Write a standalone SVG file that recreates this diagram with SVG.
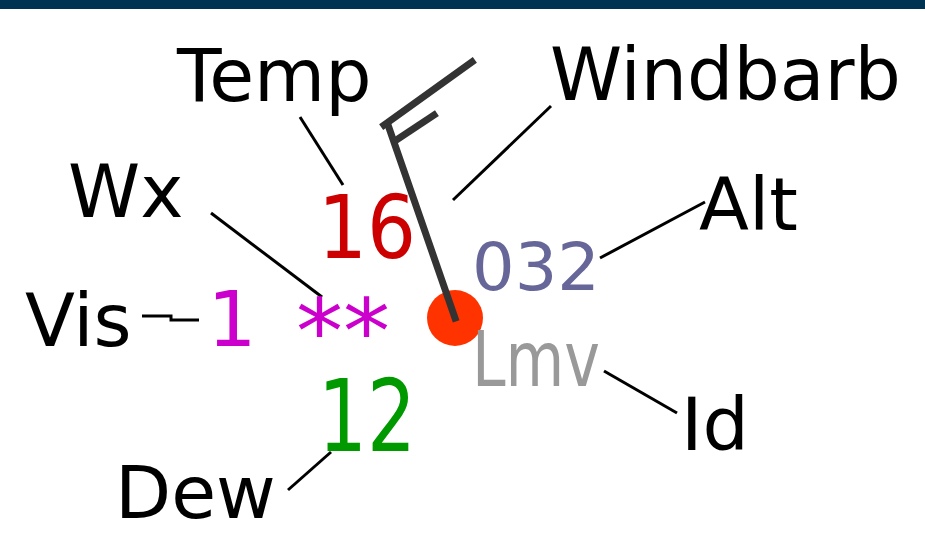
<svg xmlns="http://www.w3.org/2000/svg" width="925" height="554" viewBox="0 0 925 554">
<style>
.lbl{font-family:"DejaVu Sans",sans-serif;font-size:73px;fill:#000}
.val{font-family:"DejaVu Sans",sans-serif}
.ld{stroke:#000;stroke-width:3;fill:none}
.barb{stroke:#333;stroke-width:7;fill:none;stroke-linecap:square}
</style>
<rect x="0" y="0" width="925" height="554" fill="#fff"/>
<rect x="0" y="0" width="925" height="9" fill="#003352"/>
<g id="connectors">
<line class="ld" x1="300" y1="117" x2="343" y2="185"/>
<line class="ld" x1="453" y1="200" x2="551" y2="106"/>
<line class="ld" x1="211" y1="213" x2="322" y2="297"/>
<polyline class="ld" points="142,316 171,316 171,320 199,320"/>
<line class="ld" x1="600" y1="258" x2="705" y2="202"/>
<line class="ld" x1="604" y1="371" x2="677" y2="413"/>
<line class="ld" x1="288" y1="490" x2="331" y2="452"/>
</g>
<g id="station">
<circle cx="455" cy="318" r="28" fill="#ff3300"/>
</g>
<g id="windbarb-shape">
<line class="barb" x1="388" y1="125" x2="455" y2="318"/>
<line class="barb" x1="384" y1="125" x2="472" y2="62"/>
<line class="barb" x1="395" y1="141" x2="434" y2="115"/>
</g>
<g id="temp-value"><text class="val" x="318" y="258" font-size="88" fill="#cc0000" textLength="98" lengthAdjust="spacingAndGlyphs">16</text></g>
<g id="alt-value"><text class="val" x="472" y="290" font-size="66" fill="#666699" textLength="128" lengthAdjust="spacingAndGlyphs">032</text></g>
<g id="id-value"><text class="val" x="472" y="386" font-size="77" fill="#999999" textLength="128" lengthAdjust="spacingAndGlyphs">Lmv</text></g>
<g id="vis-value"><text class="val" x="232" y="346" font-size="77" fill="#cc00cc" text-anchor="middle">1</text></g>
<g id="wx-value"><text class="val" x="296" y="363" font-size="89" fill="#cc00cc" textLength="94" lengthAdjust="spacingAndGlyphs">**</text></g>
<g id="dew-value"><text class="val" x="318" y="451" font-size="100" fill="#009900" textLength="98" lengthAdjust="spacingAndGlyphs">12</text></g>
<g id="label-temp"><text class="lbl" x="177" y="101">Temp</text></g>
<g id="label-windbarb"><text class="lbl" x="550" y="100">Windbarb</text></g>
<g id="label-wx"><text class="lbl" x="68" y="217">Wx</text></g>
<g id="label-alt"><text class="lbl" x="699" y="230">Alt</text></g>
<g id="label-vis"><text class="lbl" x="25" y="346">Vis</text></g>
<g id="label-id"><text class="lbl" x="681" y="450">Id</text></g>
<g id="label-dew"><text class="lbl" x="115" y="518">Dew</text></g>
</svg>
